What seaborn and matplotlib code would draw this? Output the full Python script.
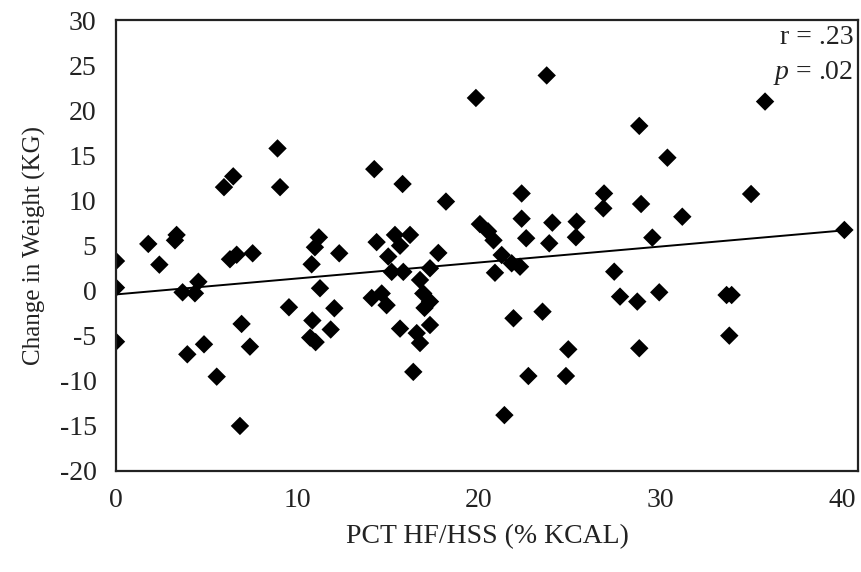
import matplotlib
matplotlib.use("Agg")
import matplotlib.pyplot as plt
import pandas as pd
import seaborn as sns

# values
pct_hf_hss = [
    0.0, 0.0, 0.0, 1.78, 2.39, 3.34, 3.25, 3.67, 4.54, 4.35,
    3.93, 4.85, 5.55, 5.95, 6.46, 6.28, 6.65, 7.53, 6.92, 7.38,
    6.83, 8.9, 9.04, 9.53,
    11.18, 10.96, 12.3, 10.78, 11.24, 12.03, 10.82, 11.83, 10.7, 11.0,
    14.23, 15.79, 18.18, 19.83, 14.36, 15.37, 16.2, 15.65, 15.0, 17.76,
    15.19, 15.83, 17.3, 16.75, 16.93, 14.09, 14.64, 14.91, 17.3, 17.0,
    15.65, 17.3, 16.57, 16.75, 16.38,
    20.05, 20.5, 20.8, 21.25, 21.8, 22.26, 20.88, 22.35, 22.35, 22.6,
    24.04, 23.87, 25.38, 25.34, 23.73, 21.9, 23.5, 24.92, 22.72, 24.79,
    21.4,
    26.89, 26.85, 28.83, 30.38, 28.93, 31.2, 29.55, 35.76, 34.99, 40.13,
    27.45, 27.77, 28.72, 29.93, 33.64, 33.92, 33.79, 28.83,
]
weight_change = [
    3.3, 0.35, -5.65, 5.2, 2.9, 6.2, 5.6, -0.17, 1.0, -0.28,
    -7.05, -5.94, -9.53, 11.5, 12.7, 3.5, 4.0, 4.16, -3.68, -6.2,
    -15.0, 15.8, 11.5, -1.83,
    5.93, 4.83, 4.16, 2.94, 0.28, -1.94, -3.3, -4.3, -5.2, -5.7,
    13.5, 11.85, 9.9, 21.4, 5.4, 6.2, 6.2, 5.0, 3.8, 4.2,
    2.1, 2.1, 2.5, 1.2, -0.3, -0.8, -0.3, -1.6, -1.2, -1.9,
    -4.2, -3.8, -4.7, -5.8, -9.0,
    7.4, 6.6, 5.6, 3.97, 3.05, 2.67, 2.0, 10.8, 8.0, 5.83,
    7.56, 5.27, 7.67, 5.94, 23.9, -3.05, -2.32, -6.5, -9.46, -9.46,
    -13.8,
    10.8, 9.15, 18.3, 14.77, 9.63, 8.22, 5.9, 21.0, 10.74, 6.75,
    2.12, -0.65, -1.2, -0.17, -0.47, -0.47, -4.98, -6.38,
]
x_ticks = [0, 10, 20, 30, 40]
y_ticks = [-20, -15, -10, -5, 0, 5, 10, 15, 20, 25, 30]

df = pd.DataFrame({"pct": pct_hf_hss, "change": weight_change})

sns.set_style("white")
plt.rcParams["font.family"] = ["Liberation Serif", "DejaVu Serif"]
plt.rcParams["axes.unicode_minus"] = False
plt.rcParams["mathtext.fontset"] = "custom"
plt.rcParams["mathtext.it"] = "Liberation Serif:italic"
plt.rcParams["mathtext.rm"] = "Liberation Serif"

fig = plt.figure(figsize=(8.61, 5.72), dpi=100)
ax = fig.add_axes([0.1347, 0.1766, 0.8618, 0.7876])

sns.regplot(data=df, x="pct", y="change", ax=ax, ci=None, marker="D",
            scatter_kws={"s": 88, "color": "black", "edgecolors": "none", "alpha": 1},
            line_kws={"color": "black", "linewidth": 1.4})

ax.set_xlim(0, 40.88)
ax.set_ylim(-20, 30)
ax.set_xticks(x_ticks)
ax.set_yticks(y_ticks)
ax.tick_params(axis="both", length=0, labelsize=20, colors="#222222")
ax.tick_params(axis="x", pad=12)
ax.tick_params(axis="y", pad=14)
for side in ["left", "right", "top", "bottom"]:
    ax.spines[side].set_visible(True)
    ax.spines[side].set_color("#222222")
    ax.spines[side].set_linewidth(1.6)

ax.set_xlabel("PCT HF/HSS (% KCAL)", fontsize=20, color="#222222", labelpad=8)
ax.set_ylabel("Change in Weight (KG)", fontsize=18, color="#222222", labelpad=10)

ax.text(0.994, 0.99, "r = .23", transform=ax.transAxes, ha="right", va="top",
        fontsize=20, color="#222222")
ax.text(0.994, 0.915, "$p$ = .02", transform=ax.transAxes, ha="right", va="top",
        fontsize=20, color="#222222")

fig.savefig("out.png", dpi=100)
plt.close(fig)
